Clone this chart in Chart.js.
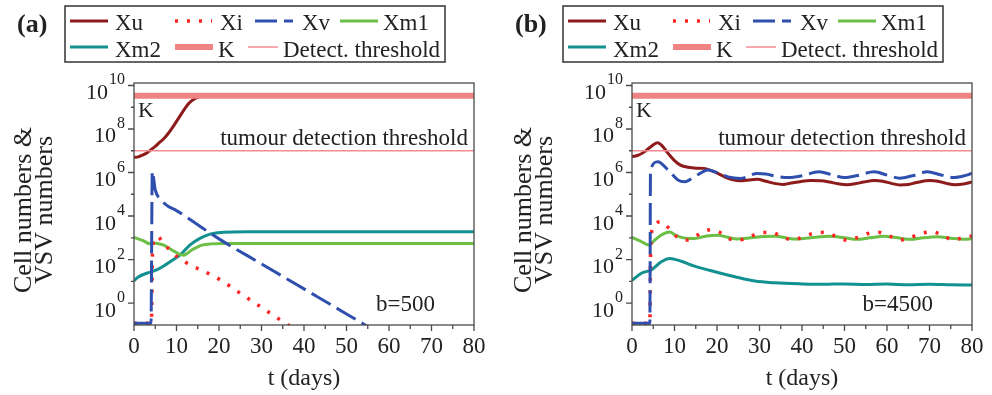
<!DOCTYPE html>
<html>
<head>
<meta charset="utf-8">
<script src="https://cdn.jsdelivr.net/npm/chart.js@4.4.1/dist/chart.umd.min.js"></script>
<style>
  html, body { margin: 0; padding: 0; background: #fff; }
  #wrap { position: relative; width: 992px; height: 395px; overflow: hidden; }
  canvas { position: absolute; top: 0; }
  #panelA { left: 0; }
  #panelB { left: 498px; }
</style>
</head>
<body>
<div id="wrap">
  <canvas id="panelA" width="496" height="395"></canvas>
  <canvas id="panelB" width="494" height="395"></canvas>
</div>
<script>
/* Tumour / VSV model: cell and virus numbers over time, two b values */

const FONT = "'Liberation Serif', 'Times New Roman', serif";
const INK = '#222';

// time axis (days)
const tTicks = [0, 10, 20, 30, 40, 50, 60, 70, 80];
// y axis decades, log10
const yDecades = [0, 2, 4, 6, 8, 10];
const yMinorDecades = [1, 3, 5, 7, 9];

// carrying capacity and detection threshold, [t, log10]
const logK = [[0, 9.53], [80, 9.53]];
const logDetect = [[0, 7], [80, 7]];

// ---- panel (a): b = 500, [t, log10 value] ----
const xuA = [[0, 6.70], [1, 6.72], [2, 6.80], [3, 6.90], [4, 7.05], [5, 7.20], [6, 7.38], [7, 7.55],
  [8, 7.78], [9, 8.05], [10, 8.35], [11, 8.65], [12, 8.95], [13, 9.20], [14, 9.36], [15, 9.45],
  [16, 9.50], [18, 9.53], [80, 9.53]];
const xiA = [[0, -0.93], [4.1, -0.93], [4.4, 2.6], [5.4, 3.05], [7.3, 2.67], [9.2, 2.28], [13.2, 1.75],
  [16, 1.5], [20, 1.1], [25, 0.45], [30, -0.2], [35, -0.85], [37, -1.1]];
const xvA = [[0, -0.93], [4.0, -0.93], [4.3, 6.05], [5, 5.2], [6, 4.8], [7, 4.6], [8, 4.45], [10, 4.25],
  [12, 4.0], [15, 3.6], [20, 2.95], [30, 1.8], [40, 0.65], [50, -0.5], [56, -1.2]];
const xm1A = [[0, 3.02], [2, 2.88], [3.8, 2.72], [4.5, 2.76], [5.5, 2.74], [6.9, 2.67], [8, 2.55],
  [9.6, 2.36], [11.6, 2.2], [12.5, 2.28], [13.6, 2.44], [15, 2.58], [16, 2.66], [18, 2.72],
  [21, 2.74], [80, 2.74]];
const xm2A = [[0, 1.02], [1, 1.2], [3, 1.37], [5.3, 1.52], [7, 1.7], [8.5, 1.9], [10.8, 2.2],
  [13.2, 2.67], [15.5, 2.97], [17.9, 3.17], [21, 3.25], [26.5, 3.28], [80, 3.28]];

// ---- panel (b): b = 4500 ----
const xuB = [[0, 6.72], [1.5, 6.8], [3, 6.96], [4.5, 7.2], [6, 7.37], [7, 7.25], [8.5, 6.88], [10, 6.55],
  [11.5, 6.33], [13.2, 6.24], [15, 6.2], [17, 6.19], [18.5, 6.1], [20.2, 5.96], [22, 5.78], [23.5, 5.68],
  [25.5, 5.62], [27.5, 5.66], [29.5, 5.69], [31.5, 5.6], [33.5, 5.5], [35.5, 5.45], [37.5, 5.52],
  [39.5, 5.58], [42, 5.63], [44.5, 5.62], [46.5, 5.56], [48.5, 5.48], [50.5, 5.44], [52.5, 5.48],
  [54.5, 5.56], [57, 5.63], [59, 5.6], [61, 5.5], [63, 5.43], [65, 5.45], [67, 5.54], [70, 5.63],
  [72, 5.6], [74, 5.5], [76, 5.44], [78, 5.47], [80, 5.56]];
const xiB = [[0, -0.93], [4.2, -0.93], [4.4, 2.6], [4.9, 3.43], [6.9, 3.74], [8.9, 3.39], [10.7, 3.02],
  [13, 2.9], [15.5, 3.13], [17.9, 3.36], [20.4, 3.28], [22.6, 2.97], [25.3, 2.9], [27.7, 3.05],
  [30.3, 3.23], [32.8, 3.25], [35.3, 3.05], [37.9, 2.9], [40.3, 3.05], [42.7, 3.2], [45.4, 3.25],
  [47.8, 3.08], [50.5, 2.9], [52.9, 3.0], [55.6, 3.2], [58, 3.25], [60.6, 3.08], [63, 2.9],
  [65.3, 3.0], [67.8, 3.18], [70.4, 3.28], [73, 3.13], [75.5, 2.9], [77.8, 3.0], [80, 3.08]];
const xvB = [[0, -0.93], [4.2, -0.93], [4.35, 6.1], [6.1, 6.5], [8.5, 6.11], [10.8, 5.66], [12.4, 5.58],
  [14.7, 5.81], [17.9, 6.12], [20.2, 5.98], [22.6, 5.8], [25.5, 5.73], [29.5, 5.96], [31.5, 5.93],
  [33.6, 5.84], [36.7, 5.77], [40, 5.85], [44, 6.03], [47, 5.9], [50, 5.77], [53, 5.86], [57, 6.03],
  [60, 5.88], [63, 5.74], [66, 5.85], [69.5, 6.03], [72.5, 5.9], [75.6, 5.77], [78, 5.84], [80, 5.96]];
const xm1B = [[0, 3.02], [2, 2.85], [4, 2.67], [5.5, 2.92], [6.9, 3.13], [8.9, 3.26], [10.2, 3.12],
  [11.6, 3.02], [13.2, 2.97], [14.7, 2.97], [17.5, 3.08], [20.2, 3.12], [22.5, 3.02], [24.8, 2.94],
  [28, 3.0], [31, 3.06], [34, 3.07], [36.5, 2.98], [39, 2.94], [42, 3.0], [46.6, 3.07], [50, 3.0],
  [52.9, 2.93], [56, 3.0], [59.2, 3.07], [62.5, 3.0], [65.4, 2.93], [68.5, 3.0], [71.7, 3.05],
  [75, 2.98], [78, 2.93], [80, 2.95]];
const xm2B = [[0, 1.04], [2.2, 1.37], [4.5, 1.52], [6.9, 1.9], [8.9, 2.05], [11.6, 1.92], [14.7, 1.7],
  [19.5, 1.44], [24.2, 1.21], [28.9, 1.01], [33.6, 0.93], [40, 0.88], [45, 0.86], [50, 0.88],
  [55, 0.85], [60, 0.87], [65, 0.84], [70, 0.86], [75, 0.84], [80, 0.83]];

// line look per series (order: lower = drawn on top)
const styles = {
  'Xu':                { color: '#8e1b1b', width: 3,   dash: [],      order: 6 },
  'Xi':                { color: '#ff2424', width: 3.5, dash: [3, 9],  order: 3 },
  'Xv':                { color: '#2f4fae', width: 3,   dash: [22, 7], order: 2 },
  'Xm1':               { color: '#6cbf46', width: 3,   dash: [],      order: 4 },
  'Xm2':               { color: '#139191', width: 3,   dash: [],      order: 5 },
  'K':                 { color: '#f08484', width: 6,   dash: [],      order: 0 },
  'Detect. threshold': { color: '#f28c94', width: 1.5, dash: [],      order: 1 }
};

// legend slots relative to the legend box: [row, lineStart, lineEnd, textX]
const legendSlots = {
  'Xu': [0, 5, 43, 50], 'Xi': [0, 110, 147, 155], 'Xv': [0, 190, 228, 237], 'Xm1': [0, 275, 313, 318],
  'Xm2': [1, 5, 43, 50], 'K': [1, 110, 148, 153], 'Detect. threshold': [1, 183, 213, 218]
};

function toPoints(rows) {
  return rows.map(([t, e]) => ({ x: t, y: Math.pow(10, e) }));
}

function makeDataset(label, rows) {
  const s = styles[label];
  return {
    label, data: toPoints(rows),
    borderColor: s.color, borderWidth: s.width, borderDash: s.dash,
    borderCapStyle: 'butt', pointRadius: 0, fill: false,
    cubicInterpolationMode: 'monotone', order: s.order
  };
}

/* ---------- frame, ticks, labels, legend ---------- */
const decor = {
  id: 'decor',
  afterDraw(chart, args, o) {
    const { ctx, chartArea: a } = chart;
    const x = chart.scales.x, y = chart.scales.y;
    ctx.save();

    // plot frame + tick marks
    ctx.strokeStyle = '#4a4a4a';
    ctx.lineWidth = 1.3;
    ctx.strokeRect(a.left, a.top, a.right - a.left, a.bottom - a.top);
    ctx.beginPath();
    for (let t = 0; t <= 80; t += 5) {
      const px = x.getPixelForValue(t);
      ctx.moveTo(px, a.bottom);
      ctx.lineTo(px, a.bottom + (t % 10 ? 4 : 6));
    }
    yDecades.forEach(e => {
      const py = y.getPixelForValue(Math.pow(10, e));
      ctx.moveTo(a.left - 6, py); ctx.lineTo(a.left, py);
    });
    yMinorDecades.forEach(e => {
      const py = y.getPixelForValue(Math.pow(10, e));
      ctx.moveTo(a.left - 3, py); ctx.lineTo(a.left, py);
    });
    ctx.stroke();

    // y tick labels as 10^n
    ctx.fillStyle = INK;
    ctx.textAlign = 'right';
    ctx.textBaseline = 'alphabetic';
    yDecades.forEach(e => {
      const py = y.getPixelForValue(Math.pow(10, e));
      const ex = String(e);
      ctx.font = `16px ${FONT}`;
      const ew = ctx.measureText(ex).width;
      ctx.fillText(ex, a.left - 9, py - 1);
      ctx.font = `22px ${FONT}`;
      ctx.fillText('10', a.left - 10 - ew, py + 13.5);
    });

    // y title, two lines
    ctx.font = `26px ${FONT}`;
    ctx.textAlign = 'center';
    ctx.textBaseline = 'middle';
    ['Cell numbers &', 'VSV numbers'].forEach((line, i) => {
      ctx.save();
      ctx.translate(o.titleX + i * 21, 210);
      ctx.rotate(-Math.PI / 2);
      ctx.fillText(line, 0, 0);
      ctx.restore();
    });

    // in-plot annotations
    ctx.textBaseline = 'alphabetic';
    ctx.textAlign = 'left';
    ctx.font = `22px ${FONT}`;
    ctx.fillText('K', a.left + 4, y.getPixelForValue(Math.pow(10, logK[0][1])) + 21);
    ctx.textAlign = 'right';
    ctx.font = `23px ${FONT}`;
    ctx.fillText('tumour detection threshold', a.right - 6, y.getPixelForValue(Math.pow(10, logDetect[0][1])) - 6);
    ctx.fillText(o.bLabel, a.right - 39, a.bottom - 14);

    // panel tag
    ctx.textAlign = 'left';
    ctx.font = `bold 26px ${FONT}`;
    ctx.fillText(o.tag, 17, 32);

    // legend box
    const bx = 65, by = 6;
    ctx.strokeStyle = '#333';
    ctx.lineWidth = 1.5;
    ctx.strokeRect(bx, by, 380, 56);
    ctx.font = `23px ${FONT}`;
    chart.data.datasets.forEach(ds => {
      const [row, l0, l1, tx] = legendSlots[ds.label];
      const ly = row ? 47 : 21;
      ctx.save();
      ctx.strokeStyle = ds.borderColor;
      ctx.lineWidth = ds.borderWidth;
      ctx.setLineDash(ds.borderDash);
      ctx.beginPath();
      ctx.moveTo(bx + l0, ly); ctx.lineTo(bx + l1, ly);
      ctx.stroke();
      ctx.restore();
      ctx.fillStyle = INK;
      ctx.fillText(ds.label, bx + tx, row ? 57 : 30);
    });
    ctx.restore();
  }
};

function makeChart(id, series, opts, padRight) {
  const datasets = [
    makeDataset('Xu', series[0]),
    makeDataset('Xi', series[1]),
    makeDataset('Xv', series[2]),
    makeDataset('Xm1', series[3]),
    makeDataset('Xm2', series[4]),
    makeDataset('K', logK),
    makeDataset('Detect. threshold', logDetect)
  ];
  return new Chart(document.getElementById(id), {
    type: 'line',
    data: { datasets },
    options: {
      responsive: false,
      devicePixelRatio: 1,
      animation: false,
      layout: { padding: { top: 83, right: padRight, left: 0, bottom: 0 } },
      plugins: { legend: { display: false }, tooltip: { enabled: false }, decor: opts },
      scales: {
        x: {
          type: 'linear', min: 0, max: 80,
          afterBuildTicks: s => { s.ticks = tTicks.map(v => ({ value: v })); },
          afterFit: s => { s.height = 70; },
          grid: { display: false, drawTicks: false },
          border: { display: false },
          ticks: { font: { family: FONT, size: 23 }, color: INK, padding: 8, maxRotation: 0, autoSkip: false },
          title: { display: true, text: 't (days)', font: { family: FONT, size: 24 }, color: INK, padding: { top: 0, bottom: 2 } }
        },
        y: {
          type: 'logarithmic', min: 0.098, max: 1.3e10,
          afterFit: s => { s.width = 134; },
          grid: { display: false, drawTicks: false },
          border: { display: false },
          ticks: { display: false }
        }
      }
    },
    plugins: [decor]
  });
}

makeChart('panelA', [xuA, xiA, xvA, xm1A, xm2A], { tag: '(a)', bLabel: 'b=500', titleX: 24 }, 22);
makeChart('panelB', [xuB, xiB, xvB, xm1B, xm2B], { tag: '(b)', bLabel: 'b=4500', titleX: 26 }, 20);
</script>
</body>
</html>
